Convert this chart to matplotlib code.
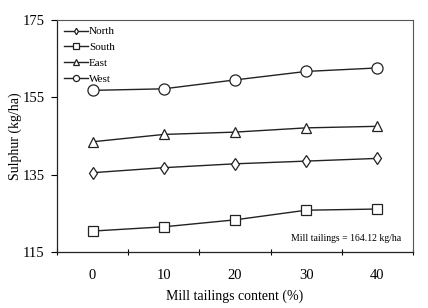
import matplotlib
matplotlib.use("Agg")
import matplotlib.pyplot as plt

plt.rcParams['font.family'] = ['Liberation Serif', 'DejaVu Serif']

content = [0, 10, 20, 30, 40]
north = [135.5, 136.8, 137.8, 138.5, 139.2]
south = [120.4, 121.5, 123.3, 125.8, 126.1]
east = [143.5, 145.4, 146.0, 147.1, 147.5]
west = [156.8, 157.2, 159.5, 161.7, 162.6]

fig = plt.figure(figsize=(4.28, 3.08), dpi=100)
ax = fig.add_axes([0.133, 0.182, 0.832, 0.753])

style = dict(color='#222222', lw=1.0, mfc='white', mec='#222222', mew=0.9)
ax.plot(content, north, marker='d', ms=6, label='North', **style)
ax.plot(content, south, marker='s', ms=7, label='South', **style)
ax.plot(content, east, marker='^', ms=7, label='East', **style)
ax.plot(content, west, marker='o', ms=8, label='West', **style)

ax.set_xlim(-5, 45)
ax.set_ylim(115, 175)
ax.set_yticks([115, 135, 155, 175])
ax.set_xticks([-5, 5, 15, 25, 35, 45])
ax.set_xticklabels([])
ax.set_xticks(content, minor=True)
ax.set_xticklabels([str(c) for c in content], minor=True)
ax.tick_params(axis='x', which='major', direction='inout', length=5, width=0.8)
ax.tick_params(axis='x', which='minor', length=0, pad=12, labelsize=10.5)
ax.tick_params(axis='y', direction='out', length=4, width=0.8, labelsize=10.5, pad=5)

for s in ['left', 'bottom']:
    ax.spines[s].set_linewidth(0.9)
    ax.spines[s].set_color('#222222')
for s in ['top', 'right']:
    ax.spines[s].set_linewidth(0.8)
    ax.spines[s].set_color('#555555')

ax.set_xlabel('Mill tailings content (%)', fontsize=10, labelpad=6)
ax.set_ylabel('Sulphur (kg/ha)', fontsize=10, labelpad=0)

ax.legend(loc='upper left', frameon=False, fontsize=8, markerscale=0.55,
          handlelength=2.2, handletextpad=0.1, labelspacing=0.55,
          borderaxespad=0.2)

ax.text(0.966, 0.06, 'Mill tailings = 164.12 kg/ha', transform=ax.transAxes,
        ha='right', va='center', fontsize=7)

fig.savefig('out.png', dpi=100)
